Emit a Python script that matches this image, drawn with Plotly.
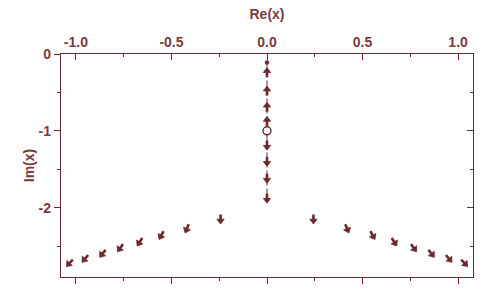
import plotly.graph_objects as go
import numpy as np

# ---- data ----
# vertical branch on the imaginary axis
vert_line_y = [-0.11, -1.9]
dot_y = [-0.11]
circle_y = [-1.0]
up_arrow_y = [-0.24, -0.48, -0.69, -0.875]
down_arrow_y = [-1.19, -1.40, -1.62, -1.88]

# side branches (right side; left is mirror)
side_x = [0.243, 0.419, 0.553, 0.666, 0.768, 0.860, 0.952, 1.033]
side_y = [-2.151, -2.273, -2.360, -2.447, -2.525, -2.598, -2.664, -2.721]
side_angle_deg = [0, 22, 28, 33, 36, 38, 40, 43]   # flow direction, measured from straight down

x_ticks = [-1.0, -0.5, 0.0, 0.5, 1.0]
x_ticklabels = ["-1.0", "-0.5", "0.0", "0.5", "1.0"]
y_ticks = [0, -1, -2]
y_ticklabels = ["0", "-1", "-2"]

COL = "#6c2a30"
TXT = "#7a3a3e"
FONT = "Liberation Sans, Arial, sans-serif"

xr = [-1.078, 1.078]
yr = [-2.903, 0.0]
W, H = 485, 291
ml, mr, mt, mb = 61, 12, 54, 14
pxx = (W - ml - mr) / (xr[1] - xr[0])
pxy = (H - mt - mb) / (yr[1] - yr[0])

# build arrows: center position + screen direction (ux right, uy up)
arr_x, arr_y, arr_ux, arr_uy = [], [], [], []
for y in up_arrow_y:
    arr_x.append(0); arr_y.append(y); arr_ux.append(0.0); arr_uy.append(1.0)
for y in down_arrow_y:
    arr_x.append(0); arr_y.append(y); arr_ux.append(0.0); arr_uy.append(-1.0)
for x, y, a in zip(side_x, side_y, side_angle_deg):
    r = np.radians(a)
    arr_x += [x, -x]; arr_y += [y, y]
    arr_ux += [np.sin(r), -np.sin(r)]; arr_uy += [-np.cos(r), -np.cos(r)]

L = 9.5       # total arrow length px
HEAD_SIZE = 6.4
HR = HEAD_SIZE / 2  # tip is HR px ahead of triangle centre
sx, sy, hx, hy, hang = [], [], [], [], []
for x, y, ux, uy in zip(arr_x, arr_y, arr_ux, arr_uy):
    tipx = x + ux * L / 2 / pxx
    tipy = y + uy * L / 2 / pxy
    tailx = x - ux * L / 2 / pxx
    taily = y - uy * L / 2 / pxy
    cx = tipx - ux * HR / pxx
    cy = tipy - uy * HR / pxy
    sx += [tailx, cx, None]; sy += [taily, cy, None]
    hx.append(cx); hy.append(cy)
    hang.append(float(np.degrees(np.arctan2(ux, uy))))  # clockwise from up

fig = go.Figure()

fig.add_trace(go.Scatter(x=[0, 0], y=vert_line_y, mode="lines",
                         line=dict(color=COL, width=1, dash="dashdot"),
                         showlegend=False, hoverinfo="skip"))
fig.add_trace(go.Scatter(x=sx, y=sy, mode="lines",
                         line=dict(color=COL, width=2.6),
                         showlegend=False, hoverinfo="skip"))
fig.add_trace(go.Scatter(x=hx, y=hy, mode="markers",
                         marker=dict(symbol="triangle-up", angle=hang, size=HEAD_SIZE,
                                     color=COL, line=dict(width=0.8, color=COL)),
                         showlegend=False, hoverinfo="skip"))
fig.add_trace(go.Scatter(x=[0], y=dot_y, mode="markers",
                         marker=dict(color=COL, size=4.5),
                         showlegend=False))
fig.add_trace(go.Scatter(x=[0], y=circle_y, mode="markers",
                         marker=dict(color="white", size=8, line=dict(color=COL, width=1.4)),
                         showlegend=False))
# invisible trace for the mirrored axes
fig.add_trace(go.Scatter(x=[0], y=[0], xaxis="x2", yaxis="y2", mode="markers",
                         marker=dict(opacity=0), showlegend=False, hoverinfo="skip"))

axis_common = dict(showline=True, linecolor=COL, linewidth=1.3, showgrid=False,
                   zeroline=False, tickcolor=COL, tickwidth=1.3, automargin=False)

fig.update_layout(
    width=W, height=H,
    margin=dict(l=ml, r=mr, t=mt, b=mb),
    paper_bgcolor="white", plot_bgcolor="white",
    font=dict(family=FONT, color=TXT, size=14),
    xaxis=dict(range=xr, tickvals=x_ticks, ticks="outside", ticklen=6,
               showticklabels=False,
               minor=dict(dtick=0.25, tick0=0, ticks="outside", ticklen=3,
                          tickcolor=COL, tickwidth=1.3),
               **axis_common),
    xaxis2=dict(range=xr, overlaying="x", side="top", tickvals=x_ticks,
                ticktext=x_ticklabels, ticks="inside", ticklen=6,
                tickfont=dict(family=FONT, size=14, color=TXT, weight="bold"),
                title=dict(text="<b>Re(x)</b>", standoff=11,
                           font=dict(family=FONT, size=14, color=TXT)),
                minor=dict(dtick=0.25, tick0=0, ticks="inside", ticklen=3,
                           tickcolor=COL, tickwidth=1.3),
                **axis_common),
    yaxis=dict(range=yr, tickvals=y_ticks, ticktext=y_ticklabels,
               ticks="outside", ticklen=6,
               tickfont=dict(family=FONT, size=14, color=TXT, weight="bold"),
               title=dict(text="<b>Im(x)</b>", standoff=0,
                          font=dict(family=FONT, size=14, color=TXT)),
               minor=dict(dtick=0.5, tick0=0, ticks="outside", ticklen=3,
                          tickcolor=COL, tickwidth=1.3),
               **axis_common),
    yaxis2=dict(range=yr, overlaying="y", side="right", tickvals=y_ticks,
                ticks="inside", ticklen=6, showticklabels=False,
                minor=dict(dtick=0.5, tick0=0, ticks="inside", ticklen=3,
                           tickcolor=COL, tickwidth=1.3),
                **axis_common),
)

fig.write_html("out.html", config={"displayModeBar": False},
               post_script="document.body.style.margin='0';")
